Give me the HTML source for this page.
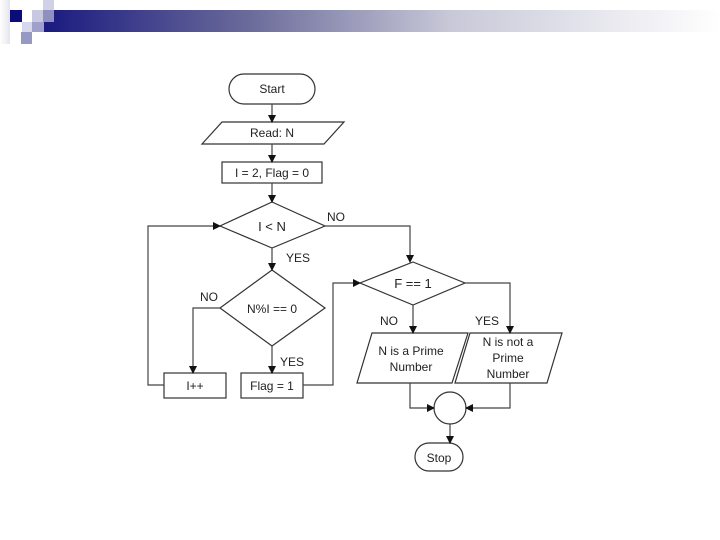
<!DOCTYPE html>
<html><head><style>
body{margin:0;width:720px;height:540px;background:#fff;overflow:hidden;position:relative}
.t{font-family:"Liberation Sans",sans-serif;font-size:12px;fill:#222}
</style></head><body>
<div style="position:absolute;left:44px;top:10px;width:676px;height:22px;background:linear-gradient(90deg,#1a1a80 0%,#6a6a9a 30%,#c8c8d8 60%,#fff 100%)"></div>
<div style="position:absolute;left:0;top:0;width:10px;height:44px;background:linear-gradient(90deg,#fff,#e4e4f0)"></div>
<div style="position:absolute;left:10px;top:10px;width:12px;height:12px;background:#0b0b7a"></div>
<div style="position:absolute;left:32px;top:10px;width:12px;height:12px;background:#c8c8e0"></div>
<div style="position:absolute;left:43px;top:0;width:11px;height:10px;background:#d0d0e6"></div>
<div style="position:absolute;left:43px;top:10px;width:11px;height:12px;background:#9090c0"></div>
<div style="position:absolute;left:22px;top:22px;width:10px;height:10px;background:#d8d8ec"></div>
<div style="position:absolute;left:32px;top:22px;width:12px;height:10px;background:#a0a0cc"></div>
<div style="position:absolute;left:21px;top:32px;width:11px;height:12px;background:#9898c4"></div>
<svg width="720" height="540" style="position:absolute;left:0;top:0">
<defs><marker id="a" markerWidth="8" markerHeight="8" refX="7" refY="4" orient="auto" markerUnits="userSpaceOnUse"><path d="M0,0L8,4L0,8z" fill="#111"/></marker></defs>
<g fill="none" stroke="#333" stroke-width="1.2">
<rect x="229" y="74" width="86" height="30" rx="15"/>
<polygon points="222,122 344,122 324,144 202,144"/>
<rect x="222" y="162" width="100" height="21"/>
<polygon points="272,202 325,226 272,248 220,226"/>
<polygon points="272,270 325,308 272,346 220,308"/>
<rect x="164" y="373" width="62" height="25"/>
<rect x="241" y="373" width="62" height="25"/>
<polygon points="413,262 465,283 413,305 360,283"/>
<polygon points="372,333 468,333 452,383 357,383"/>
<polygon points="470,333 562,333 547,383 455,383"/>
<circle cx="450" cy="408" r="16"/>
<rect x="415" y="443" width="48" height="28" rx="14"/>
</g>
<g fill="none" stroke="#444" stroke-width="1.2" marker-end="url(#a)">
<path d="M272,104V122"/>
<path d="M272,144V162"/>
<path d="M272,183V202"/>
<path d="M325,226H410V262"/>
<path d="M272,248V270"/>
<path d="M220,308H193V373"/>
<path d="M272,346V373"/>
<path d="M164,385H148V226H220"/>
<path d="M303,385H333V283H360"/>
<path d="M413,305V333"/>
<path d="M465,283H510V333"/>
<path d="M410,383V408H434"/>
<path d="M510,383V408H466"/>
<path d="M450,424V443"/>
</g>
<text class="t" x="272" y="93" text-anchor="middle">Start</text>
<text class="t" x="272" y="137" text-anchor="middle">Read: N</text>
<text class="t" x="272" y="177" text-anchor="middle">I = 2, Flag = 0</text>
<text class="t" x="272" y="231" text-anchor="middle" style="font-size:13px">I &lt; N</text>
<text class="t" x="272" y="313" text-anchor="middle">N%I == 0</text>
<text class="t" x="195" y="390" text-anchor="middle">I++</text>
<text class="t" x="272" y="390" text-anchor="middle">Flag = 1</text>
<text class="t" x="413" y="288" text-anchor="middle" style="font-size:13px">F == 1</text>
<text class="t" x="411" y="355" text-anchor="middle">N is a Prime</text>
<text class="t" x="411" y="371" text-anchor="middle">Number</text>
<text class="t" x="508" y="346" text-anchor="middle">N is not a</text>
<text class="t" x="508" y="362" text-anchor="middle">Prime</text>
<text class="t" x="508" y="378" text-anchor="middle">Number</text>
<text class="t" x="439" y="462" text-anchor="middle">Stop</text>
<text class="t" x="327" y="221">NO</text>
<text class="t" x="286" y="262">YES</text>
<text class="t" x="200" y="301">NO</text>
<text class="t" x="280" y="366">YES</text>
<text class="t" x="380" y="325">NO</text>
<text class="t" x="475" y="325">YES</text>
</svg>
</body></html>
